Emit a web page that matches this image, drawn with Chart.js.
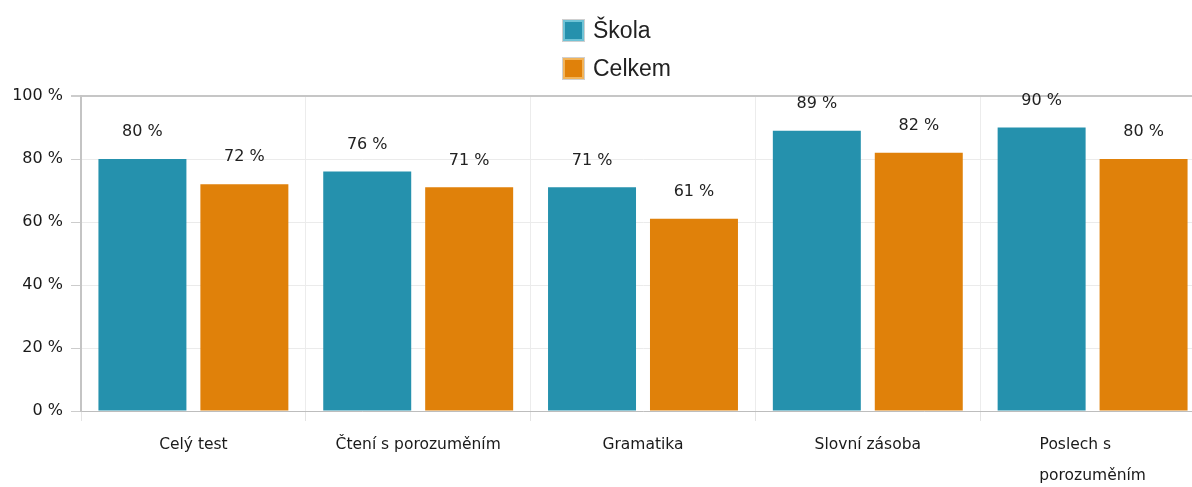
<!DOCTYPE html>
<html>
<head>
<meta charset="utf-8">
<script src="https://cdn.jsdelivr.net/npm/chart.js@4.4.1/dist/chart.umd.min.js"></script>
<style>
  html, body { margin: 0; padding: 0; background: #fff; overflow: hidden; }
  #wrap { width: 1210px; height: 487px; }
</style>
</head>
<body>
<div id="wrap"><canvas id="c" width="1210" height="487"></canvas></div>
<script>
const categories = ['Celý test', 'Čtení s porozuměním', 'Gramatika', 'Slovní zásoba', ['Poslech s', 'porozuměním']];
const seriesNames = ['Škola', 'Celkem'];
const skolaValues = [80, 76, 71, 89, 90];
const celkemValues = [72, 71, 61, 82, 80];
const yTicks = [0, 20, 40, 60, 80, 100];
const seriesColors = ['#2591ad', '#e0810a'];
const seriesBorders = ['#6fc3d6', '#f2b45a'];

const valueLabels = {
  id: 'valueLabels',
  afterDatasetsDraw(chart) {
    const ctx = chart.ctx;
    ctx.save();
    ctx.font = '16px "DejaVu Sans"';
    ctx.fillStyle = '#222';
    ctx.textAlign = 'center';
    ctx.textBaseline = 'middle';
    chart.data.datasets.forEach((ds, di) => {
      const meta = chart.getDatasetMeta(di);
      meta.data.forEach((bar, i) => {
        ctx.fillText(ds.data[i] + ' %', bar.x, bar.y - 27);
      });
    });
    ctx.restore();
  }
};

const stackedLegend = {
  id: 'stackedLegend',
  afterDraw(chart) {
    const ctx = chart.ctx;
    ctx.save();
    const left = 562, top = 19, size = 23, pitch = 38;
    ctx.font = '23px "Liberation Sans", Arial';
    ctx.textBaseline = 'middle';
    ctx.textAlign = 'left';
    chart.data.datasets.forEach((ds, i) => {
      const y = top + i * pitch;
      ctx.fillStyle = '#cfcfcf';
      ctx.fillRect(left, y, size, size);
      ctx.fillStyle = ds.borderColor;
      ctx.fillRect(left + 1, y + 1, size - 2, size - 2);
      ctx.fillStyle = ds.backgroundColor;
      ctx.fillRect(left + 3, y + 3, size - 6, size - 6);
      ctx.fillStyle = '#222';
      ctx.fillText(ds.label, left + size + 8, y + size / 2 + 1);
    });
    ctx.restore();
  }
};

// left-align the lines of a wrapped label inside a centred block
function padLines(label) {
  if (!Array.isArray(label)) return label;
  const c = document.createElement('canvas').getContext('2d');
  c.font = '15.5px "DejaVu Sans"';
  const widths = label.map(s => c.measureText(s).width);
  const maxW = Math.max(...widths);
  const sp = c.measureText('\u00a0').width;
  return label.map((s, i) => s + '\u00a0'.repeat(Math.round((maxW - widths[i]) / sp)));
}

new Chart(document.getElementById('c'), {
  type: 'bar',
  data: {
    labels: categories,
    datasets: [
      { label: seriesNames[0], data: skolaValues, backgroundColor: seriesColors[0], borderColor: seriesBorders[0], borderWidth: 0 },
      { label: seriesNames[1], data: celkemValues, backgroundColor: seriesColors[1], borderColor: seriesBorders[1], borderWidth: 0 }
    ]
  },
  options: {
    responsive: false,
    animation: false,
    devicePixelRatio: 1,
    categoryPercentage: 0.907,
    barPercentage: 0.863,
    layout: { padding: { top: 96, right: 5, left: 0, bottom: 0 } },
    plugins: {
      legend: { display: false },
      tooltip: { enabled: false }
    },
    scales: {
      x: {
        offset: true,
        grid: { color: '#ececec', lineWidth: 1, tickLength: 10, offset: true, tickColor: '#e4e4e4' },
        border: { color: '#bdbdbd', width: 1 },
        ticks: {
          color: '#1a1a1a',
          font: { family: '"DejaVu Sans"', size: 15.5, lineHeight: 2 },
          padding: 8,
          maxRotation: 0,
          autoSkip: false,
          callback: function (v, i) { return padLines(categories[i]); }
        },
        afterFit(scale) { scale.height = 76; }
      },
      y: {
        min: 0,
        max: 100,
        afterBuildTicks(scale) { scale.ticks = yTicks.map(v => ({ value: v })); },
        grid: {
          color: (c) => (c.tick && c.tick.value === 100) ? '#c6c6c6' : '#ebebeb',
          lineWidth: (c) => (c.tick && c.tick.value === 100) ? 2 : 1,
          tickLength: 10,
          tickColor: '#cccccc'
        },
        border: { color: '#c4c4c4', width: 2 },
        ticks: {
          color: '#1a1a1a',
          font: { family: '"DejaVu Sans"', size: 16 },
          padding: 8,
          callback: (v) => v + ' %'
        },
        afterFit(scale) { scale.width = 81; }
      }
    }
  },
  plugins: [valueLabels, stackedLegend]
});
</script>
</body>
</html>
